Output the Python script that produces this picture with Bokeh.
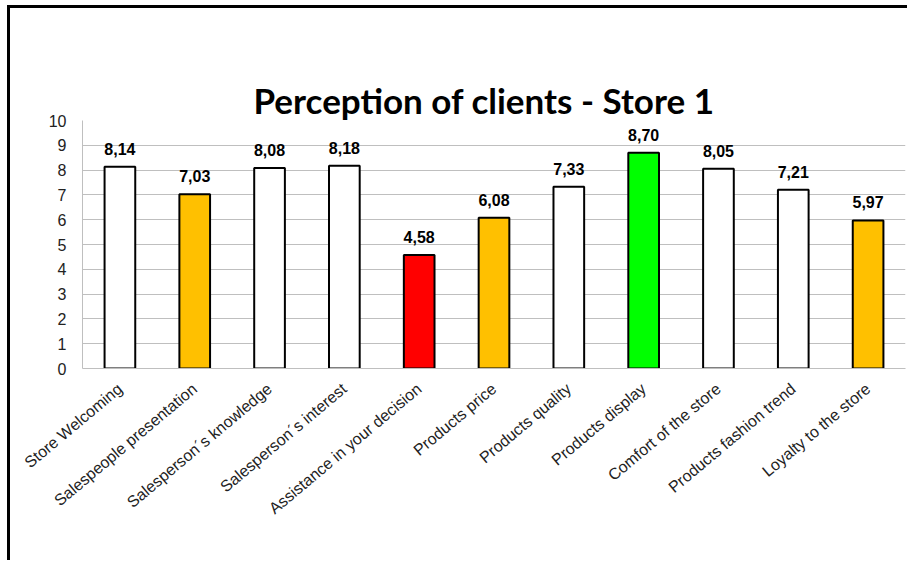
from bokeh.plotting import figure
from bokeh.models import ColumnDataSource, FixedTicker, LabelSet, Title, Range1d, FactorRange
from bokeh.core.properties import value
from bokeh.embed import file_html
from bokeh.resources import INLINE
import math

categories = ["Store Welcoming", "Salespeople presentation", "Salesperson\u00b4s knowledge",
              "Salesperson\u00b4s interest", "Assistance in your decision", "Products price",
              "Products quality", "Products display", "Comfort of the store",
              "Products fashion trend", "Loyalty to the store"]
values = [8.14, 7.03, 8.08, 8.18, 4.58, 6.08, 7.33, 8.70, 8.05, 7.21, 5.97]
colors = ["#FFFFFF", "#FFC000", "#FFFFFF", "#FFFFFF", "#FF0000", "#FFC000",
          "#FFFFFF", "#00FF00", "#FFFFFF", "#FFFFFF", "#FFC000"]
y_ticks = [0, 1, 2, 3, 4, 5, 6, 7, 8, 9, 10]
labels = [f"{v:.2f}".replace(".", ",") for v in values]
title_text = "Perception of clients - Store 1"

src = ColumnDataSource(dict(cat=categories, val=values, col=colors, lab=labels))

p = figure(x_range=FactorRange(*categories, range_padding=0), y_range=Range1d(0, 10),
           width=900, height=555, output_backend="svg", toolbar_location=None,
           min_border_left=72, min_border_right=5, min_border_top=112, min_border_bottom=195)
p.styles = {"border-left": "3px solid black", "border-top": "3px solid black",
            "margin-left": "7px", "margin-top": "5px"}

p.vbar(x="cat", top="val", width=0.41, source=src, fill_color="col",
       line_color="black", line_width=2)

p.add_layout(LabelSet(x="cat", y="val", text="lab", source=src, y_offset=12,
                      text_align="center", text_baseline="alphabetic",
                      text_font=value("Liberation Sans"), text_font_style="bold",
                      text_font_size="16px", text_color="black"))

# real title
p.title.text = title_text
p.title.align = "left"
p.title.offset = 171
p.title.standoff = 0
p.title.text_font = "Lato"
p.title.text_font_style = "bold"
p.title.text_font_size = "35px"
p.title.text_color = "black"
# invisible spacer panel between the title and the plot frame
p.add_layout(Title(text=".", text_alpha=0, standoff=0, text_font_size="35px"), "above")

p.outline_line_color = None
p.xgrid.grid_line_color = None
p.ygrid.grid_line_color = "#BFBFBF"
p.ygrid.grid_line_width = 1
p.yaxis.ticker = FixedTicker(ticks=y_ticks)

for ax in (p.xaxis, p.yaxis):
    ax.axis_line_color = "#BFBFBF"
    ax.major_tick_line_color = None
    ax.minor_tick_line_color = None
    ax.major_label_text_font = "Liberation Sans"
    ax.major_label_text_color = "#222222"

p.yaxis.major_label_text_font_size = "16px"
p.yaxis.major_label_standoff = 10
p.xaxis.major_label_text_font_size = "16px"
p.xaxis.major_label_orientation = 40 * math.pi / 180
p.xaxis.major_label_standoff = 12

open("out.html", "w").write(file_html(p, INLINE))
